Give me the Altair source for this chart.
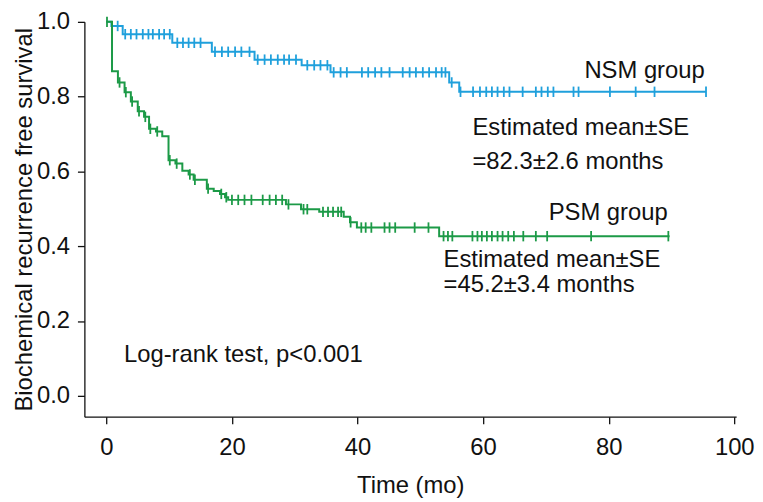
import altair as alt
import pandas as pd

# ---- data ----
nsm_step_t = [0, 0.8, 2.6, 10.5, 16.8, 23.6, 31.1, 35.7, 54.6, 56.2, 95.5]
nsm_step_s = [1.0, 0.989, 0.967, 0.944, 0.920, 0.899, 0.884, 0.865, 0.838, 0.813, 0.813]
nsm_cens = [1.8, 3.0, 3.9, 4.8, 5.8, 6.7, 7.4, 8.4, 9.2, 10.1, 11.3, 12.2, 13.1, 14.0,
            15.0, 17.3, 18.4, 19.4, 20.5, 21.5, 22.8, 24.1, 25.2, 26.2, 27.3, 28.3,
            29.1, 30.2, 32.0, 33.1, 34.1, 35.2, 36.2, 37.3, 38.3, 40.7, 41.7, 42.8,
            43.8, 45.1, 47.2, 48.3, 49.3, 50.4, 51.4, 52.5, 53.4, 54.0, 55.0, 56.4,
            58.4, 59.5, 60.5, 61.4, 62.3, 63.3, 64.2, 66.3, 68.4, 69.3, 70.3, 71.2,
            74.4, 75.2, 80.2, 84.3, 87.3, 95.5]

psm_step_t = [0, 0.9, 1.84, 2.9, 3.9, 5.0, 6.0, 6.8, 7.9, 8.9, 9.9, 11.0, 12.1, 13.1,
              13.9, 16.0, 17.1, 18.1, 18.9, 19.4, 28.6, 31.0, 33.9, 37.8, 38.8, 39.9,
              53.0, 89.7]
psm_step_s = [1.0, 0.868, 0.838, 0.812, 0.787, 0.761, 0.746, 0.714, 0.707, 0.694, 0.630,
              0.621, 0.602, 0.592, 0.578, 0.554, 0.548, 0.540, 0.531, 0.524, 0.512,
              0.499, 0.492, 0.479, 0.464, 0.450, 0.427, 0.427]
psm_cens = [0.1, 2.1, 3.1, 4.1, 5.2, 6.2, 7.0, 8.1, 10.1, 11.2, 13.3, 14.1, 16.2,
            18.3, 19.1, 20.0, 21.0, 22.0, 23.1, 24.9, 26.0, 27.0, 28.0, 29.0, 31.4,
            32.0, 34.5, 35.3, 36.1, 36.9, 37.4, 38.9, 40.6, 41.3, 42.2, 44.3, 45.1,
            46.0, 49.1, 51.3, 53.7, 54.4, 55.1, 58.3, 59.1, 59.8, 60.6, 61.4, 62.3,
            63.1, 64.0, 64.9, 66.4, 68.4, 70.2, 77.2, 89.5]

groups = ["NSM group", "PSM group"]
colors = ["#1FA0DC", "#1C9A47"]

x_ticks = [0, 20, 40, 60, 80, 100]
y_ticks = [0.0, 0.2, 0.4, 0.6, 0.8, 1.0]

right_labels = ["NSM group", "PSM group"]
right_x = [95.3, 89.4]
right_y = [0.868, 0.488]

left_labels = ["Estimated mean±SE", "=82.3±2.6 months", "Estimated mean±SE",
               "=45.2±3.4 months", "Log-rank test, p<0.001"]
left_x = [58.3, 58.3, 53.7, 53.7, 2.8]
left_y = [0.716, 0.625, 0.364, 0.297, 0.109]


def surv_at(ts, ss, t):
    s = ss[0]
    for ti, si in zip(ts, ss):
        if ti <= t:
            s = si
    return s


curve_rows = []
for g, ts, ss in [(groups[0], nsm_step_t, nsm_step_s), (groups[1], psm_step_t, psm_step_s)]:
    for t, s in zip(ts, ss):
        curve_rows.append({"group": g, "time": t, "surv": s})
curves = pd.DataFrame(curve_rows)

cens_rows = []
for g, cs, ts, ss in [(groups[0], nsm_cens, nsm_step_t, nsm_step_s),
                      (groups[1], psm_cens, psm_step_t, psm_step_s)]:
    for c in cs:
        cens_rows.append({"group": g, "time": c, "surv": surv_at(ts, ss, c)})
cens = pd.DataFrame(cens_rows)

ann_right = pd.DataFrame({"time": right_x, "surv": right_y, "label": right_labels})
ann_left = pd.DataFrame({"time": left_x, "surv": left_y, "label": left_labels})

FONT = "Liberation Sans"
FS = 24

xscale = alt.Scale(domain=[-3.5, 100.3], nice=False, zero=False)
yscale = alt.Scale(domain=[-0.0557, 1.0], nice=False, zero=False)
cscale = alt.Scale(domain=groups, range=colors)

xax = alt.X("time:Q", scale=xscale,
            axis=alt.Axis(values=x_ticks, title="Time (mo)", format="d"))
yax = alt.Y("surv:Q", scale=yscale,
            axis=alt.Axis(values=y_ticks, title="Biochemical recurrence free survival",
                          format=".1f"))

lines = alt.Chart(curves).mark_line(interpolate="step-after", strokeWidth=2).encode(
    x=xax, y=yax,
    color=alt.Color("group:N", scale=cscale, legend=None),
    detail="group:N",
)

marks = alt.Chart(cens).mark_point(shape="M0,-1L0,1", size=110, strokeWidth=1.8,
                                   filled=False, opacity=1).encode(
    x="time:Q", y="surv:Q",
    color=alt.Color("group:N", scale=cscale, legend=None),
)

txt_r = alt.Chart(ann_right).mark_text(align="right", baseline="middle", font=FONT,
                                       fontSize=FS, color="#111").encode(
    x="time:Q", y="surv:Q", text="label:N")
txt_l = alt.Chart(ann_left).mark_text(align="left", baseline="middle", font=FONT,
                                      fontSize=FS, color="#111").encode(
    x="time:Q", y="surv:Q", text="label:N")

chart = alt.layer(lines, marks, txt_r, txt_l).properties(
    width=657, height=398,
    padding={"left": 4, "top": 0, "right": 0, "bottom": 0},
).configure_view(stroke=None).configure_axis(
    grid=False,
    domainColor="#111", tickColor="#111", domainWidth=1.3, tickWidth=1.3, tickSize=7,
    labelFont=FONT, labelFontSize=FS, labelColor="#111",
    titleFont=FONT, titleFontSize=FS, titleColor="#111", titleFontWeight="normal",
).configure_axisX(titlePadding=14, labelPadding=12).configure_axisY(
    titlePadding=0, labelPadding=8)

chart.save("out.html", embed_options={"renderer": "svg", "actions": False})
